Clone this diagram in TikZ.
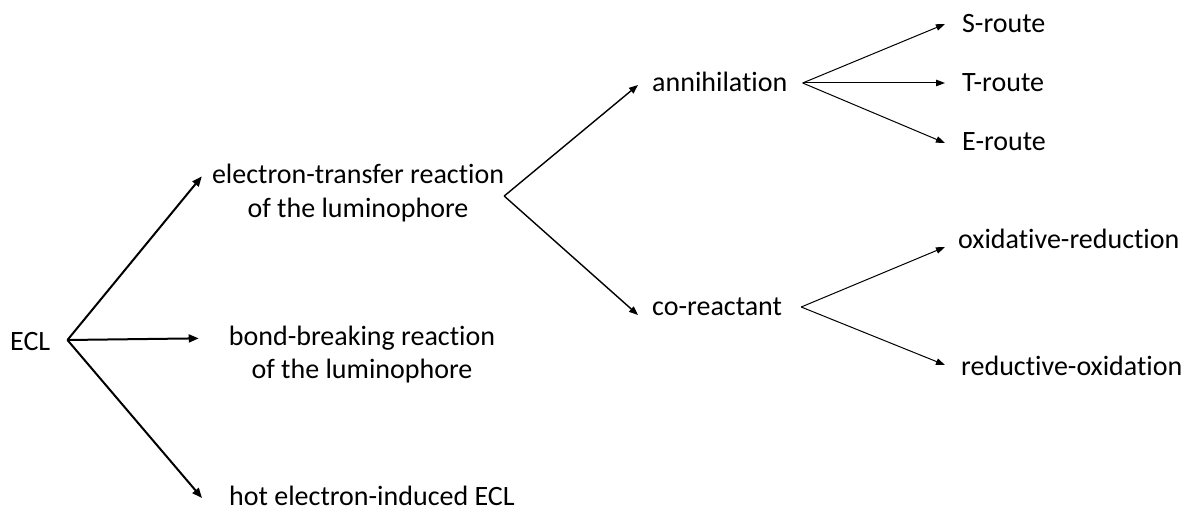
\documentclass[tikz,border=0pt]{standalone}
\usepackage{fontspec}
\setmainfont{Carlito}[Ligatures=NoCommon]
\usetikzlibrary{arrows.meta}
\begin{document}
\begin{tikzpicture}[x=1pt,y=-1pt,
  lbl/.style={inner sep=0pt, font=\fontsize{28}{33}\selectfont},
  bigarr/.style={line width=2pt, -{Triangle[length=10pt,width=8pt]}},
  midarr/.style={line width=1.4pt, -{Triangle[length=9pt,width=7pt]}},
  smallarr/.style={line width=1pt, -{Triangle[length=9pt,width=6.5pt]}}]
\useasboundingbox[fill=white] (0,0) rectangle (1188,513);
% nodes
\node[lbl, anchor=base west] (ecl) at (10,350) {ECL};
\node[lbl, anchor=base, align=center] (et) at (358,217) {electron-transfer reaction\\of the luminophore};
\node[lbl, anchor=base, align=center] (bb) at (362,378) {bond-breaking reaction\\of the luminophore};
\node[lbl, anchor=base west] (hot) at (229,505) {hot electron-induced ECL};
\node[lbl, anchor=base west] (ann) at (652,92) {annihilation};
\node[lbl, anchor=base west] (co) at (652,315) {co-reactant};
\node[lbl, anchor=base west] (s) at (962,33) {S-route};
\node[lbl, anchor=base west] (t) at (962,92) {T-route};
\node[lbl, anchor=base west] (e) at (962,151) {E-route};
\node[lbl, anchor=base west] (ox) at (958,248) {oxidative-reduction};
\node[lbl, anchor=base west] (red) at (961,375) {reductive-oxidation};
% fork points
\coordinate (eclf) at ([xshift=17pt,yshift=10pt]ecl.base east);
\coordinate (etf) at ([xshift=0pt,yshift=-3pt]et.east);
\coordinate (annf) at ([xshift=15pt,yshift=9pt]ann.base east);
\coordinate (cof) at ([xshift=19pt,yshift=8pt]co.base east);
% connectors
\draw[bigarr] (eclf) -- ([xshift=-10pt,yshift=-12pt]et.north west);
\draw[bigarr] (eclf) -- ([xshift=-30pt,yshift=-13pt]bb.north west);
\draw[bigarr] (eclf) -- ([xshift=-27pt,yshift=7pt]hot.base west);
\draw[midarr] (etf) -- ([xshift=-14pt,yshift=7pt]ann.base west);
\draw[midarr] (etf) -- ([xshift=-14pt]co.base west);
\draw[smallarr] (annf) -- ([xshift=-17pt,yshift=9pt]s.base west);
\draw[smallarr] (annf) -- ([xshift=-17pt,yshift=9pt]t.base west);
\draw[smallarr] (annf) -- ([xshift=-17pt,yshift=8pt]e.base west);
\draw[smallarr] (cof) -- ([xshift=-13pt,yshift=1pt]ox.base west);
\draw[smallarr] (cof) -- ([xshift=-16pt,yshift=10pt]red.base west);
\end{tikzpicture}
\end{document}
